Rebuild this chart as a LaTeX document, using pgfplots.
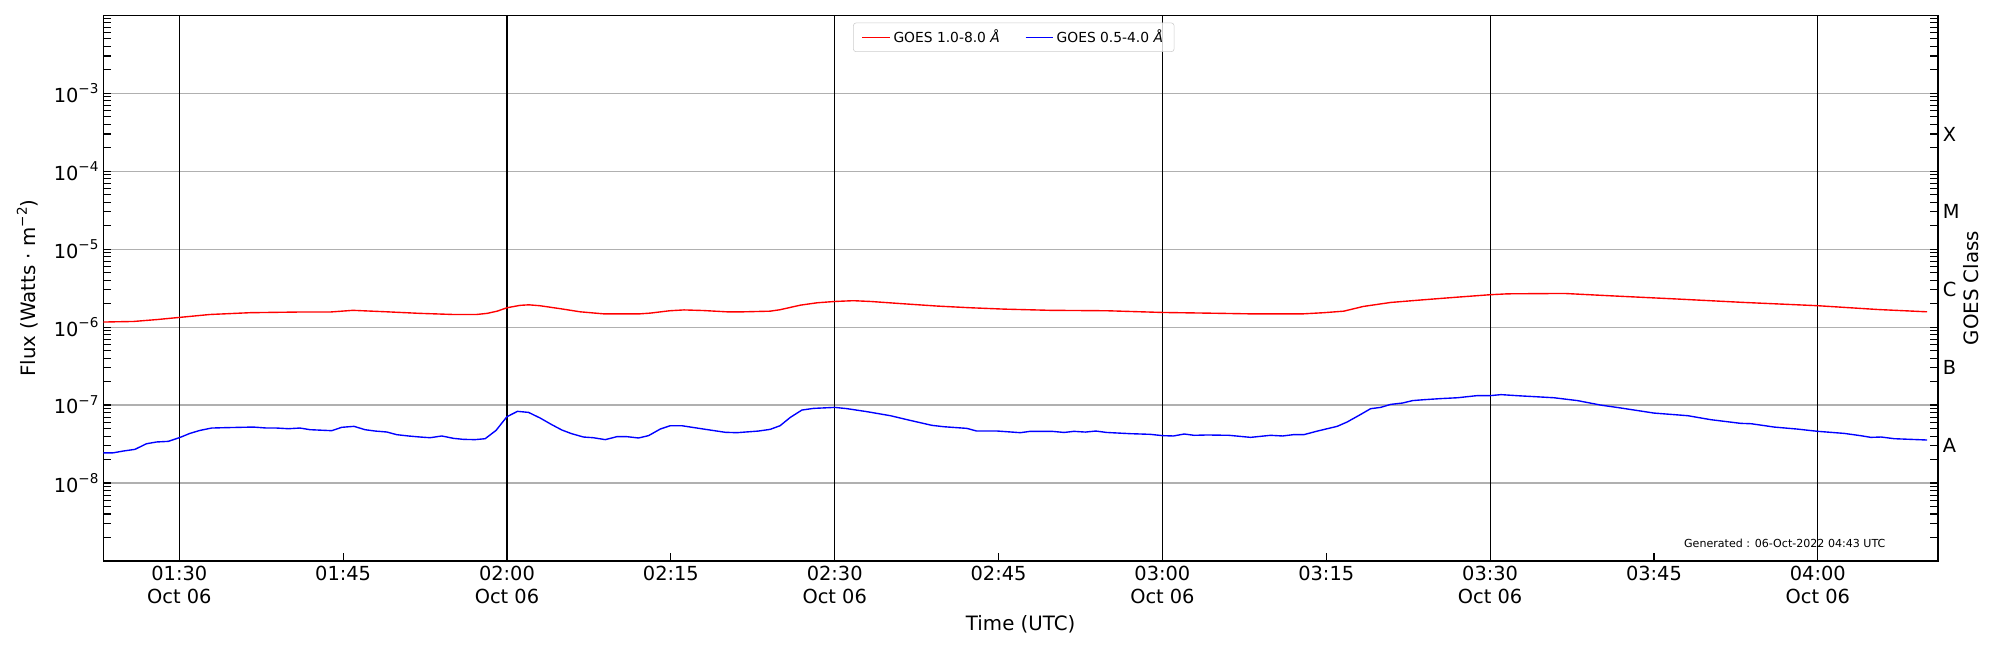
\documentclass[border=0pt]{standalone}
\usepackage{fontspec}
\setmainfont{DejaVu Sans}
\usepackage{pgfplots}
\usepackage{pgfplotstable}
\pgfplotsset{compat=1.18}

\newcommand{\dec}[1]{10\raisebox{6pt}{\fontsize{9.8}{10}\selectfont −#1}}

\pgfplotstableread{
t f
83.05 1.16e-6
84.3 1.17e-6
85.8 1.18e-6
88.0 1.25e-6
90.0 1.33e-6
92.8 1.45e-6
96.5 1.53e-6
101.0 1.56e-6
103.8 1.56e-6
105.9 1.64e-6
109.0 1.57e-6
112.0 1.50e-6
115.1 1.45e-6
117.2 1.45e-6
118.2 1.50e-6
119.1 1.60e-6
120.0 1.77e-6
121.2 1.90e-6
122.0 1.93e-6
123.0 1.88e-6
124.9 1.72e-6
126.7 1.57e-6
128.8 1.48e-6
132.2 1.48e-6
133.1 1.51e-6
134.9 1.62e-6
136.2 1.66e-6
138.0 1.63e-6
140.1 1.57e-6
141.7 1.57e-6
144.1 1.60e-6
145.0 1.67e-6
146.85 1.91e-6
148.4 2.05e-6
150.0 2.13e-6
151.7 2.18e-6
153.3 2.13e-6
156.3 1.99e-6
159.4 1.86e-6
162.4 1.77e-6
165.5 1.70e-6
169.75 1.64e-6
174.9 1.62e-6
180.0 1.54e-6
184.1 1.51e-6
187.8 1.48e-6
192.95 1.48e-6
194.8 1.53e-6
196.6 1.60e-6
198.4 1.84e-6
200.9 2.07e-6
203.9 2.24e-6
207.0 2.42e-6
210.0 2.60e-6
211.6 2.67e-6
216.8 2.70e-6
221.0 2.52e-6
227.15 2.29e-6
233.25 2.07e-6
240.0 1.88e-6
245.5 1.68e-6
250.0 1.57e-6
}\longwave

\pgfplotstableread{
t f
83.05 2.43e-8
83.96 2.44e-8
84.87 2.57e-8
85.94 2.70e-8
87.0 3.19e-8
87.93 3.36e-8
88.99 3.42e-8
90.0 3.81e-8
90.98 4.33e-8
91.9 4.73e-8
92.97 5.07e-8
94.03 5.12e-8
96.78 5.22e-8
98.0 5.07e-8
98.92 5.07e-8
99.98 4.97e-8
101.05 5.07e-8
101.97 4.83e-8
103.96 4.69e-8
104.87 5.18e-8
106.0 5.33e-8
107.0 4.83e-8
107.93 4.64e-8
109.0 4.51e-8
109.9 4.17e-8
110.97 4.01e-8
112.05 3.89e-8
112.96 3.81e-8
114.03 4.01e-8
115.1 3.74e-8
116.0 3.63e-8
117.08 3.60e-8
118.0 3.70e-8
119.0 4.73e-8
119.99 7.08e-8
120.96 8.30e-8
121.97 8.05e-8
123.04 6.81e-8
124.1 5.60e-8
125.03 4.78e-8
125.9 4.30e-8
127.0 3.89e-8
127.9 3.81e-8
129.0 3.60e-8
130.06 3.93e-8
130.98 3.93e-8
132.04 3.78e-8
132.96 4.05e-8
134.03 4.92e-8
134.94 5.43e-8
136.0 5.43e-8
138.0 4.92e-8
139.98 4.47e-8
141.05 4.42e-8
143.03 4.64e-8
144.1 4.88e-8
145.0 5.43e-8
145.94 6.95e-8
147.0 8.63e-8
148.07 9.06e-8
150.0 9.33e-8
151.1 9.00e-8
152.96 8.22e-8
155.1 7.30e-8
156.9 6.36e-8
158.9 5.49e-8
160.0 5.27e-8
162.1 5.02e-8
163.0 4.64e-8
164.9 4.64e-8
167.0 4.42e-8
167.9 4.60e-8
169.9 4.60e-8
171.0 4.45e-8
171.9 4.60e-8
172.95 4.50e-8
173.9 4.64e-8
174.9 4.45e-8
177.1 4.29e-8
178.9 4.21e-8
180.0 4.05e-8
181.0 4.01e-8
182.0 4.25e-8
182.9 4.09e-8
184.1 4.13e-8
186.1 4.09e-8
188.07 3.85e-8
189.9 4.09e-8
191.0 4.01e-8
192.0 4.17e-8
192.95 4.17e-8
194.2 4.64e-8
196.0 5.33e-8
196.9 6.05e-8
198.0 7.37e-8
199.06 8.98e-8
199.98 9.33e-8
200.9 1.02e-7
201.96 1.06e-7
202.9 1.14e-7
203.9 1.17e-7
205.5 1.21e-7
207.0 1.24e-7
208.8 1.32e-7
210.0 1.32e-7
211.0 1.36e-7
212.8 1.31e-7
213.7 1.29e-7
215.85 1.24e-7
218.0 1.14e-7
220.1 1.00e-7
222.0 9.15e-8
225.0 7.89e-8
228.1 7.30e-8
230.2 6.49e-8
232.95 5.82e-8
233.9 5.76e-8
236.0 5.22e-8
238.1 4.92e-8
240.0 4.60e-8
242.4 4.33e-8
243.9 4.05e-8
244.85 3.85e-8
245.8 3.89e-8
247.0 3.70e-8
250.0 3.56e-8
}\shortwave

\begin{document}
\begin{tikzpicture}
\useasboundingbox (-74.7pt,-64.3pt) rectangle (1370.7pt,405.4pt);
\begin{axis}[
  scale only axis, width=1325.9pt, height=394.4pt,
  xmin=83.05, xmax=251.0, ymode=log, ymin=1e-9, ymax=1e-2,
  tick align=inside,
  major tick length=5.8pt, minor tick length=5.8pt,
  every tick/.style={black, line width=0.8pt},
  axis line style={line width=0.8pt},
  tick label style={font=\fontsize{14}{16.8}\selectfont},
  label style={font=\fontsize{14.3}{17}\selectfont},
  minor ytick={2e-9,3e-9,4e-9,5e-9,6e-9,7e-9,8e-9,9e-9,
    2e-8,3e-8,4e-8,5e-8,6e-8,7e-8,8e-8,9e-8,
    2e-7,3e-7,4e-7,5e-7,6e-7,7e-7,8e-7,9e-7,
    2e-6,3e-6,4e-6,5e-6,6e-6,7e-6,8e-6,9e-6,
    2e-5,3e-5,4e-5,5e-5,6e-5,7e-5,8e-5,9e-5,
    2e-4,3e-4,4e-4,5e-4,6e-4,7e-4,8e-4,9e-4,
    2e-3,3e-3,4e-3,5e-3,6e-3,7e-3,8e-3,9e-3},
  xtick pos=bottom, ytick pos=left,
  xtick={90,105,120,135,150,165,180,195,210,225,240},
  xticklabels={{01:30\\Oct 06},01:45,{02:00\\Oct 06},02:15,{02:30\\Oct 06},02:45,{03:00\\Oct 06},03:15,{03:30\\Oct 06},03:45,{04:00\\Oct 06}},
  xticklabel style={align=center},
  extra x ticks={90,120,150,180,210,240},
  extra x tick labels={},
  extra x tick style={grid=major, major grid style={black, line width=0.75pt}},
  ytick={1e-8,1e-7,1e-6,1e-5,1e-4,1e-3},
  yticklabels={\dec{8},\dec{7},\dec{6},\dec{5},\dec{4},\dec{3}},
  ymajorgrids, major grid style={color=black!31, line width=0.8pt},
  xlabel={Time (UTC)},
  xlabel style={at={(axis description cs:0.5,-0.1265)}, anchor=base},
  ylabel={Flux (Watts · m\raisebox{6pt}{\fontsize{9.8}{10}\selectfont −2})},
  ylabel style={at={(axis description cs:-0.0414,0.5)}, anchor=center},
  legend columns=2,
  legend image code/.code={\draw[#1] (0pt,0pt) -- (20pt,0pt);},
  legend style={at={(0.5,0.9864)}, anchor=north, xshift=-5pt,
    font=\fontsize{10}{12}\selectfont,
    draw=black!20, rounded corners=2pt, fill=white, fill opacity=0.8, text opacity=1,
    inner xsep=6pt, inner ysep=3pt,
    /tikz/every even column/.append style={column sep=16pt}},
]
\node[font=\fontsize{8}{9.6}\selectfont, anchor=base east] at (rel axis cs:0.974,0.024) {Generated : 06-Oct-2022 04:43 UTC};
\addplot[red, line width=1pt] table[x=t, y=f] {\longwave};
\addlegendentry{GOES 1.0-8.0 \textit{Å}}
\addplot[blue, line width=1pt] table[x=t, y=f] {\shortwave};
\addlegendentry{GOES 0.5-4.0 \textit{Å}}
\end{axis}
\begin{axis}[
  scale only axis, width=1325.9pt, height=394.4pt,
  xmin=83.05, xmax=251.0, ymode=log, ymin=1e-9, ymax=1e-2,
  tick align=inside,
  major tick length=5.8pt, minor tick length=5.8pt,
  every tick/.style={black, line width=0.8pt},
  axis line style={line width=0.8pt},
  tick label style={font=\fontsize{14}{16.8}\selectfont},
  label style={font=\fontsize{14.3}{17}\selectfont},
  minor ytick={2e-9,3e-9,4e-9,5e-9,6e-9,7e-9,8e-9,9e-9,
    2e-8,3e-8,4e-8,5e-8,6e-8,7e-8,8e-8,9e-8,
    2e-7,3e-7,4e-7,5e-7,6e-7,7e-7,8e-7,9e-7,
    2e-6,3e-6,4e-6,5e-6,6e-6,7e-6,8e-6,9e-6,
    2e-5,3e-5,4e-5,5e-5,6e-5,7e-5,8e-5,9e-5,
    2e-4,3e-4,4e-4,5e-4,6e-4,7e-4,8e-4,9e-4,
    2e-3,3e-3,4e-3,5e-3,6e-3,7e-3,8e-3,9e-3},
  hide x axis, axis y line*=right, ytick pos=right,
  ytick={1e-9,1e-8,1e-7,1e-6,1e-5,1e-4,1e-3,1e-2},
  yticklabels={},
  extra y ticks={3e-8,3e-7,3e-6,3e-5,3e-4},
  extra y tick labels={A,B,C,M,X},
  ylabel={GOES Class},
  ylabel style={at={(axis description cs:1.0180,0.5)}, anchor=center},
]
\addplot[draw=none, forget plot] coordinates {(100,1e-5)};
\end{axis}
\end{tikzpicture}
\end{document}
